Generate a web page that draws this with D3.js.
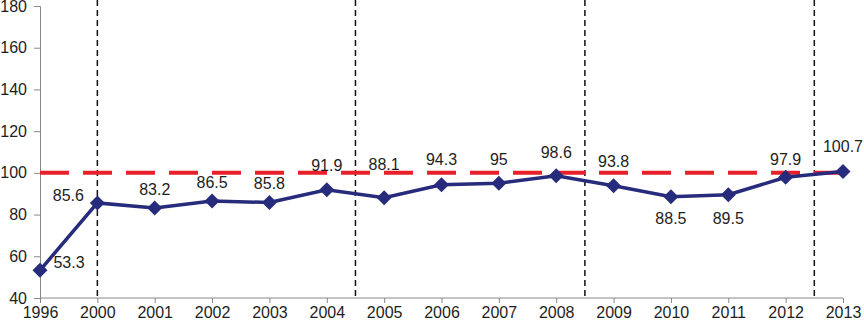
<!DOCTYPE html>
<html>
<head>
<meta charset="utf-8">
<script src="https://cdn.jsdelivr.net/npm/d3@7"></script>
<style>
  body { margin: 0; background: #fff; }
  svg { display: block; font-family: "Liberation Sans", Arial, sans-serif; }
</style>
</head>
<body>
<div id="chart"></div>
<script>
const years = ["1996", "2000", "2001", "2002", "2003", "2004", "2005", "2006", "2007", "2008", "2009", "2010", "2011", "2012", "2013"];
const values = [53.3, 85.6, 83.2, 86.5, 85.8, 91.9, 88.1, 94.3, 95, 98.6, 93.8, 88.5, 89.5, 97.9, 100.7];
const yTicks = [40, 60, 80, 100, 120, 140, 160, 180];
const reference = 100;
// vertical separators: at a year, or between two years
const separators = [["2000", "2000"], ["2004", "2005"], ["2008", "2009"], ["2012", "2013"]];

// label placement (pixel offsets of the label centre from its point)
const labelDx = [29, -29, 0, 0, 0, 0, 0, 0, 0, 0, 0, 0, 0, 0, 0];
const labelDy = [-8, -8, -19, -19, -19, -25, -33, -26, -24, -24, -25, 21, 23, -18, -25];

const width = 864, height = 324;
const margin = { top: 6, right: 21, bottom: 26, left: 40 };

const svg = d3.select("#chart")
    .append("svg")
    .attr("width", width)
    .attr("height", height);

const x = d3.scalePoint()
    .domain(years)
    .range([margin.left, width - margin.right]);

const y = d3.scaleLinear()
    .domain([40, 180])
    .range([height - margin.bottom, margin.top]);

// y axis
const yAxis = svg.append("g")
    .attr("transform", `translate(${margin.left},0)`)
    .call(d3.axisLeft(y).tickValues(yTicks).tickSize(6).tickPadding(7));
yAxis.selectAll("path, line").attr("stroke", "#888").style("stroke-width", "1px");
yAxis.selectAll("text").style("font-size", "16px").style("fill", "#1e1e1e");

// x axis
const xAxis = svg.append("g")
    .attr("transform", `translate(0,${height - margin.bottom})`)
    .call(d3.axisBottom(x).tickSize(5).tickSizeOuter(0).tickPadding(4));
xAxis.select("path").attr("d", `M${margin.left},0H${width - margin.right}`);
xAxis.selectAll("path, line").attr("stroke", "#888").style("stroke-width", "1px");
xAxis.selectAll("text").style("font-size", "16px").style("fill", "#1e1e1e");

// black dashed separators
separators.forEach(([a, b]) => {
    const sx = (x(a) + x(b)) / 2;
    svg.append("line")
        .attr("x1", sx).attr("x2", sx)
        .attr("y1", 0).attr("y2", y(40))
        .attr("stroke", "#111")
        .attr("stroke-width", 1.5)
        .attr("stroke-dasharray", "6,4");
});

// red dashed reference line
svg.append("line")
    .attr("x1", margin.left).attr("x2", width - margin.right)
    .attr("y1", y(reference)).attr("y2", y(reference))
    .attr("stroke", "#e8202a")
    .attr("stroke-width", 4)
    .attr("stroke-dasharray", "29,14");

const data = years.map((yr, i) => ({ year: yr, value: values[i], dx: labelDx[i], dy: labelDy[i] }));

const line = d3.line()
    .x(d => x(d.year))
    .y(d => y(d.value));

svg.append("path")
    .datum(data)
    .attr("fill", "none")
    .attr("stroke", "#272b7b")
    .attr("stroke-width", 3.5)
    .attr("d", line);

const r = 7.5;
svg.selectAll(".pt")
    .data(data)
    .enter()
    .append("path")
    .attr("class", "pt")
    .attr("d", `M0,${-r}L${r},0L0,${r}L${-r},0Z`)
    .attr("transform", d => `translate(${x(d.year)},${y(d.value)})`)
    .attr("fill", "#272b7b");

svg.selectAll(".lbl")
    .data(data)
    .enter()
    .append("text")
    .attr("class", "lbl")
    .attr("x", d => x(d.year) + d.dx)
    .attr("y", d => y(d.value) + d.dy)
    .attr("dy", "0.36em")
    .attr("text-anchor", "middle")
    .style("font-size", "16px")
    .style("fill", "#1e1e1e")
    .text(d => d.value);
</script>
</body>
</html>
